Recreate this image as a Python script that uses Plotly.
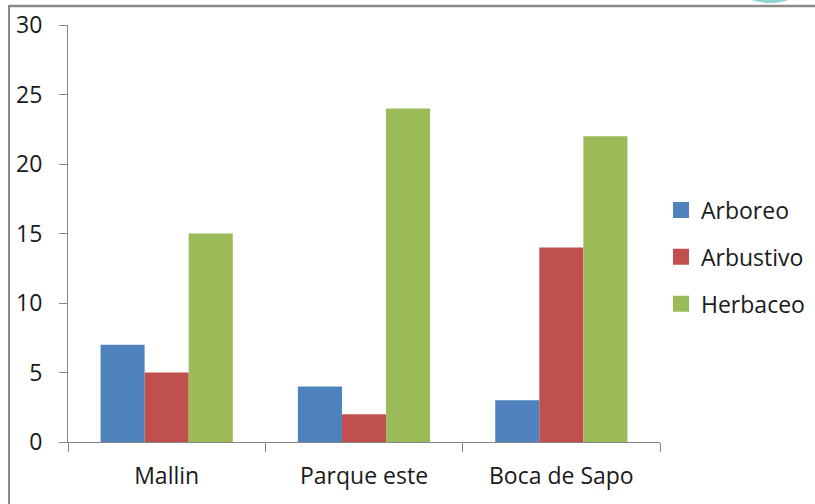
import plotly.graph_objects as go

categories = ["Mallin", "Parque este", "Boca de Sapo"]
arboreo = [7, 4, 3]
arbustivo = [5, 2, 14]
herbaceo = [15, 24, 22]
series_names = ["Arboreo", "Arbustivo", "Herbaceo"]
colors = ["#4F81BD", "#C0504D", "#9BBB59"]
y_ticks = [0, 5, 10, 15, 20, 25, 30]

W, H = 815, 504
L, R, T, B = 68, 660, 25, 442   # pixel box of the plotting area

# region handed to plotly (margins small, axes placed by domain)
ML, MR, MT, MB = L, 0, 0, H - B
PW, PH = W - ML - MR, H - MT - MB

def px(x):
    return (x - ML) / PW

def py(y):
    return (H - MB - y) / PH

fig = go.Figure()
for i, (name, vals) in enumerate(zip(series_names, [arboreo, arbustivo, herbaceo])):
    fig.add_trace(go.Bar(
        x=categories, y=vals, name=name,
        marker=dict(color=colors[i], line=dict(width=0)),
        legendgroup=name, showlegend=False,
    ))
    fig.add_trace(go.Scatter(
        x=[None], y=[None], name=name, mode="markers",
        marker=dict(symbol="square", size=16, color=colors[i]),
        legendgroup=name, showlegend=True,
    ))

font_family = "'Open Sans', sans-serif"
axis_color = "#868686"
text_color = "#1a1a1a"
fs = 23

fig.update_layout(
    width=W, height=H, autosize=False,
    margin=dict(l=ML, r=MR, t=MT, b=MB, pad=0, autoexpand=False),
    paper_bgcolor="white", plot_bgcolor="white",
    barmode="group", bargap=0.33, bargroupgap=0,
    font=dict(family=font_family, size=fs, color=text_color),
    showlegend=True,
    legend=dict(
        x=px(661), xanchor="left", y=py(257), yanchor="middle",
        font=dict(family=font_family, size=fs, color=text_color),
        tracegroupgap=14, itemwidth=30, itemsizing="trace",
        bgcolor="rgba(0,0,0,0)",
    ),
    xaxis=dict(
        domain=[px(L), px(R)], automargin=False,
        showline=True, linecolor=axis_color, linewidth=1,
        ticks="outside", tickson="boundaries", ticklen=9, tickcolor=axis_color,
        showgrid=False, zeroline=False,
        tickfont=dict(family=font_family, size=fs, color=text_color),
        ticklabelstandoff=13,
    ),
    yaxis=dict(
        domain=[py(B), py(T)], automargin=False,
        range=[0, 30], tickvals=y_ticks,
        showline=True, linecolor=axis_color, linewidth=1,
        ticks="outside", ticklen=8, tickcolor=axis_color,
        showgrid=False, zeroline=False,
        tickfont=dict(family=font_family, size=fs, color=text_color),
        ticklabelstandoff=12,
    ),
    shapes=[
        dict(type="line", xref="paper", yref="paper",
             x0=px(9), x1=px(815), y0=py(6), y1=py(6),
             line=dict(color="#8a8a8a", width=2.5)),
        dict(type="line", xref="paper", yref="paper",
             x0=px(9), x1=px(9), y0=py(5), y1=py(504),
             line=dict(color="#8a8a8a", width=2)),
        dict(type="circle", xref="paper", yref="paper",
             x0=px(743), x1=px(797), y0=py(3), y1=py(-20),
             fillcolor="#8fd3d3", line=dict(width=0), layer="below"),
    ],
)

fig.write_html(
    "out.html",
    config={"displayModeBar": False},
    post_script="document.body.style.margin='0';document.body.style.overflow='hidden';",
)
